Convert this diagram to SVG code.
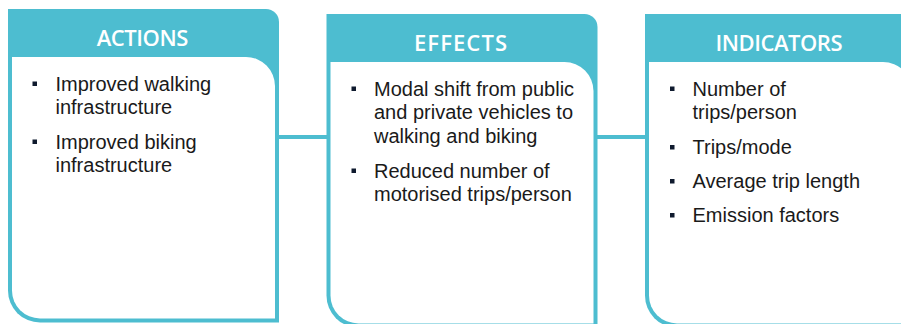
<svg xmlns="http://www.w3.org/2000/svg" xmlns:xlink="http://www.w3.org/1999/xlink" width="901" height="324" viewBox="0 0 901 324">
  <style>
    .frame { fill: #4dbdd0; }
    .inner { fill: #ffffff; }
    .title { font-family: "Open Sans", "DejaVu Sans", sans-serif; font-weight: 600; font-size: 22px; fill: #ffffff; text-anchor: middle; }
    .body { font-family: "Liberation Sans", Arial, sans-serif; font-size: 20px; fill: #1a1a1a; }
    .bullet { fill: #0f1a2e; }
    .conn { stroke: #4dbdd0; stroke-width: 4; fill: none; }
  </style>
  <defs>
    <path id="outer" d="M0,0 H258 A13,13 0 0 1 271,13 V313.5 H32 A32,32 0 0 1 0,281.5 Z"/>
    <path id="innerShape" d="M4,48 H238 A29,29 0 0 1 267,77 V309.5 H32 A28,28 0 0 1 4,281.5 Z"/>
    <rect id="sq" width="4.5" height="4.5"/>
  </defs>
  <rect width="901" height="324" fill="#ffffff"/>

  <g id="connectors">
    <line class="conn" x1="278" y1="137" x2="328" y2="137"/>
    <line class="conn" x1="596" y1="137" x2="647" y2="137"/>
  </g>

  <g id="actions" transform="translate(8,9)">
    <use xlink:href="#outer" class="frame"/>
    <use xlink:href="#innerShape" class="inner"/>
    <text class="title" x="134.5" y="36.5" textLength="91.5" lengthAdjust="spacing">ACTIONS</text>
    <use xlink:href="#sq" class="bullet" x="24.5" y="72.5"/>
    <text class="body" x="47.5" y="81.5">Improved walking</text>
    <text class="body" x="47.5" y="105">infrastructure</text>
    <use xlink:href="#sq" class="bullet" x="24.5" y="130.5"/>
    <text class="body" x="47.5" y="139.5">Improved biking</text>
    <text class="body" x="47.5" y="163">infrastructure</text>
  </g>

  <g id="effects" transform="translate(326.5,14)">
    <use xlink:href="#outer" class="frame"/>
    <use xlink:href="#innerShape" class="inner"/>
    <text class="title" x="134" y="37" textLength="93" lengthAdjust="spacing">EFFECTS</text>
    <use xlink:href="#sq" class="bullet" x="25" y="72.5"/>
    <text class="body" x="47.5" y="81.5">Modal shift from public</text>
    <text class="body" x="47.5" y="105">and private vehicles to</text>
    <text class="body" x="47.5" y="128.5">walking and biking</text>
    <use xlink:href="#sq" class="bullet" x="25" y="154.5"/>
    <text class="body" x="47.5" y="163.5">Reduced number of</text>
    <text class="body" x="47.5" y="187">motorised trips/person</text>
  </g>

  <g id="indicators" transform="translate(645,14)">
    <use xlink:href="#outer" class="frame"/>
    <use xlink:href="#innerShape" class="inner"/>
    <text class="title" x="134" y="37" textLength="127" lengthAdjust="spacing">INDICATORS</text>
    <use xlink:href="#sq" class="bullet" x="25" y="72.5"/>
    <text class="body" x="47.5" y="81.5">Number of</text>
    <text class="body" x="47.5" y="105">trips/person</text>
    <use xlink:href="#sq" class="bullet" x="25" y="131"/>
    <text class="body" x="47.5" y="140">Trips/mode</text>
    <use xlink:href="#sq" class="bullet" x="25" y="165"/>
    <text class="body" x="47.5" y="174">Average trip length</text>
    <use xlink:href="#sq" class="bullet" x="25" y="199"/>
    <text class="body" x="47.5" y="208">Emission factors</text>
  </g>
</svg>
